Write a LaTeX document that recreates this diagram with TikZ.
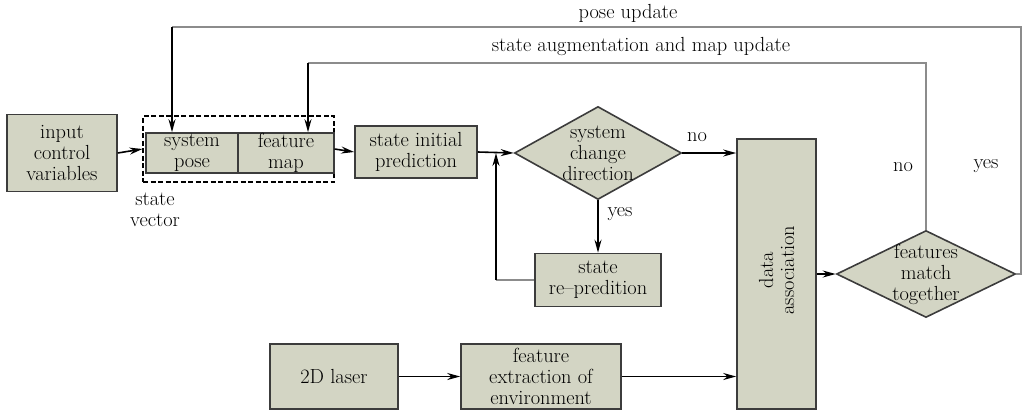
\documentclass[tikz,border=0pt]{standalone}
\usetikzlibrary{shapes.geometric,arrows.meta}
\definecolor{boxfill}{RGB}{211,213,196}
\definecolor{boxline}{RGB}{60,60,60}
\definecolor{fbline}{RGB}{140,140,140}
\begin{document}
\begin{tikzpicture}[x=1pt,y=-1pt,
  every node/.style={font=\fontsize{20.4}{21}\selectfont, align=center, inner sep=0pt},
  box/.style={draw=boxline, fill=boxfill, line width=1.6pt, rectangle},
  dia/.style={draw=boxline, fill=boxfill, line width=1.6pt, diamond},
  arr/.style={line width=1.6pt, -{Stealth[length=13pt,width=7pt]}},
  fb/.style={draw=fbline, line width=1.3pt},
  svbox/.style={draw=black, line width=1.1pt, dash pattern=on 5pt off 2.5pt}]
\useasboundingbox (0,0) rectangle (1026,413);
% nodes
\node[box, minimum width=110pt, minimum height=77pt] (in) at (62,153) {input\\control\\variables};
\node[svbox, minimum width=191pt, minimum height=66pt] (sv) at (238.5,149) {};
\node[box, minimum width=92pt, minimum height=40pt] (sp) at (192,153) {system\\pose};
\node[box, minimum width=96pt, minimum height=40pt] (fm) at (286,153) {feature\\map};
\node (svl) at (155,210) {state\\vector};
\node[box, minimum width=122pt, minimum height=52pt] (si) at (416,152) {state initial\\prediction};
\node[dia, minimum width=167pt, minimum height=93pt] (d1) at (598,153) {};
\node (d1t) at (d1.center) {system\\change\\direction};
\node[box, minimum width=79pt, minimum height=270pt] (da) at (776.5,274) {};
\node[rotate=90] (dat) at (776.5,270) {data\\association};
\node[dia, minimum width=179pt, minimum height=87pt] (d2) at (926,274) {};
\node (d2t) at (d2.center) {features\\match\\together};
\node[box, minimum width=126pt, minimum height=53pt] (rp) at (598,280) {state\\re{\textendash}predition};
\node[box, minimum width=128pt, minimum height=65pt] (la) at (334,376.5) {2D laser};
\node[box, minimum width=160pt, minimum height=65pt] (fe) at (541,376.5) {feature\\extraction of\\environment};
% labels
\node (pul) at (628,13) {pose update};
\node (sal) at (641,46) {state augmentation and map update};
\node (no1) at (697,137) {no};
\node (yes1) at (620,214) {yes};
\node (no2) at (903,167) {no};
\node (yes2) at (986,166) {yes};
% coordinates
\coordinate (lp) at (496,153);
\coordinate (pr) at (1021,27);
\coordinate (pl) at (172,27);
\coordinate (al) at (308,63);
% connectors
\draw[arr] (in.east) -- (sv.west);
\draw[arr] (sv.east) -- (si.west);
\draw[arr] (si.east) -- (d1.west);
\draw[arr] (d1.east) -- (d1.east -| da.west);
\draw[arr] (d1.south) -- (d1.south |- rp.north);
\draw[fb] (rp.west) -- (lp |- rp.west);
\draw[arr] (lp |- rp.west) -- (lp);
\draw[arr] (la.east) -- (fe.west);
\draw[arr] (fe.east) -- (fe.east -| da.west);
\draw[arr] (da.east) -- (d2.west);
\draw[fb] (d2.east) -| (pr) -- (pl);
\draw[arr] (pl) -- (pl |- sp.north);
\draw[fb] (d2.north) |- (al);
\draw[arr] (al) -- (al |- fm.north);
\end{tikzpicture}
\end{document}
